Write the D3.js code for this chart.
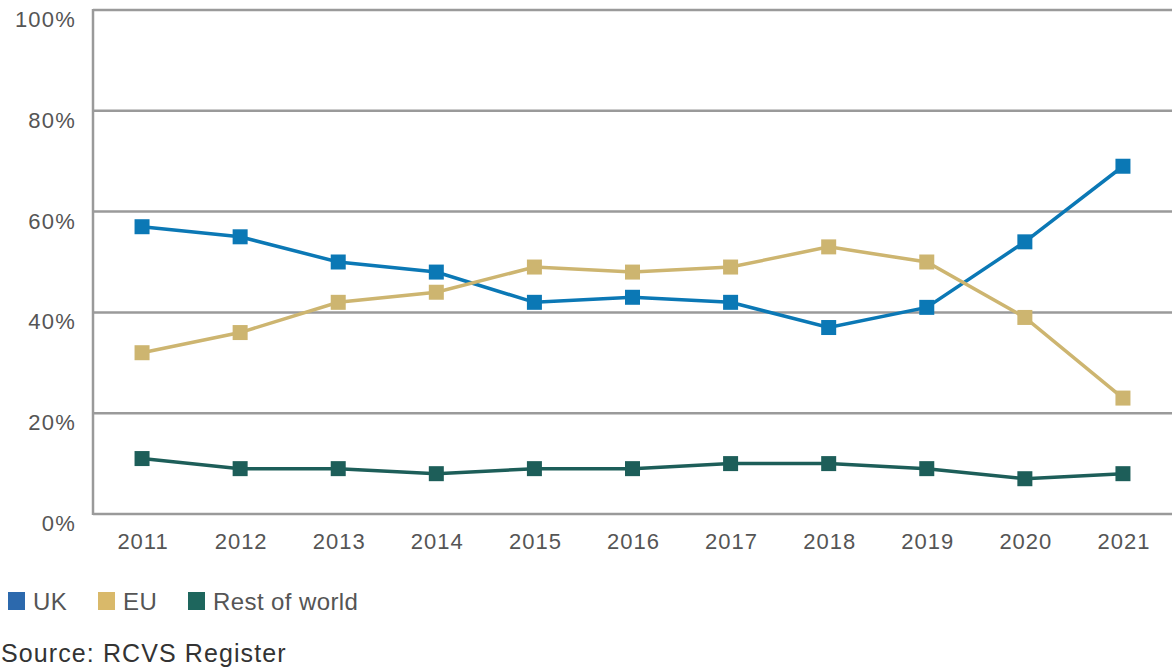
<!DOCTYPE html>
<html>
<head>
<meta charset="utf-8">
<script src="https://cdn.jsdelivr.net/npm/d3@7"></script>
<style>
  html, body { margin: 0; padding: 0; background: #fff; }
  svg { display: block; font-family: "Liberation Sans", Arial, sans-serif; }
</style>
</head>
<body>
<svg id="chart" width="1172" height="669"></svg>
<script>
const years = ["2011","2012","2013","2014","2015","2016","2017","2018","2019","2020","2021"];
const ukValues = [57, 55, 50, 48, 42, 43, 42, 37, 41, 54, 69];
const euValues = [32, 36, 42, 44, 49, 48, 49, 53, 50, 39, 23];
const rowValues = [11, 9, 9, 8, 9, 9, 10, 10, 9, 7, 8];
const yTicks = [0, 20, 40, 60, 80, 100];
const seriesNames = ["UK", "EU", "Rest of world"];
const lineColors = ["#0b78b5", "#cdb570", "#1d5e59"];
const legendColors = ["#2c69ad", "#d9b96a", "#1e665d"];
const sourceText = "Source: RCVS Register";

const series = [
  { name: seriesNames[0], values: ukValues, color: lineColors[0] },
  { name: seriesNames[1], values: euValues, color: lineColors[1] },
  { name: seriesNames[2], values: rowValues, color: lineColors[2] }
];

const svg = d3.select("#chart");
const plotLeft = 93, plotRight = 1172, plotTop = 10, plotBottom = 514;

const x = d3.scaleBand().domain(years).range([plotLeft, plotRight]);
const y = d3.scaleLinear().domain([0, 100]).range([plotBottom, plotTop]);

// gridlines
svg.append("g").selectAll("line").data(yTicks).join("line")
  .attr("x1", plotLeft).attr("x2", plotRight)
  .attr("y1", d => y(d)).attr("y2", d => y(d))
  .attr("stroke", "#9a9a9a").attr("stroke-width", 2.5);

// left axis line
svg.append("line").attr("x1", plotLeft).attr("x2", plotLeft)
  .attr("y1", plotTop - 1).attr("y2", plotBottom + 1)
  .attr("stroke", "#9a9a9a").attr("stroke-width", 2.5);

// y tick labels
svg.append("g").selectAll("text").data(yTicks).join("text")
  .attr("x", 76).attr("y", d => y(d) + 17)
  .attr("text-anchor", "end")
  .attr("font-size", 22).attr("letter-spacing", 1.2).attr("fill", "#555")
  .text(d => d + "%");

// x tick labels
svg.append("g").selectAll("text").data(years).join("text")
  .attr("x", d => x(d) + x.bandwidth() / 2 + 1).attr("y", 549)
  .attr("text-anchor", "middle")
  .attr("font-size", 22).attr("letter-spacing", 1).attr("fill", "#555")
  .text(d => d);

const line = d3.line()
  .x((d, i) => x(years[i]) + x.bandwidth() / 2)
  .y(d => y(d));

const ms = 15;
series.forEach(s => {
  const g = svg.append("g");
  g.append("path").datum(s.values)
    .attr("d", line).attr("fill", "none")
    .attr("stroke", s.color).attr("stroke-width", 3.5);
  g.selectAll("rect").data(s.values).join("rect")
    .attr("x", (d, i) => x(years[i]) + x.bandwidth() / 2 - ms / 2)
    .attr("y", d => y(d) - ms / 2)
    .attr("width", ms).attr("height", ms)
    .attr("fill", s.color);
});

// legend
const legendX = [8, 98, 188];
const lg = svg.append("g");
series.forEach((s, i) => {
  lg.append("rect").attr("x", legendX[i]).attr("y", 592)
    .attr("width", 17).attr("height", 18).attr("fill", legendColors[i]);
  lg.append("text").attr("x", legendX[i] + 25).attr("y", 610)
    .attr("font-size", 24).attr("letter-spacing", 0.4)
    .attr("fill", "#555").text(s.name);
});

svg.append("text").attr("x", 1).attr("y", 662)
  .attr("font-size", 25).attr("letter-spacing", 1.1)
  .attr("fill", "#333").text(sourceText);
</script>
</body>
</html>
